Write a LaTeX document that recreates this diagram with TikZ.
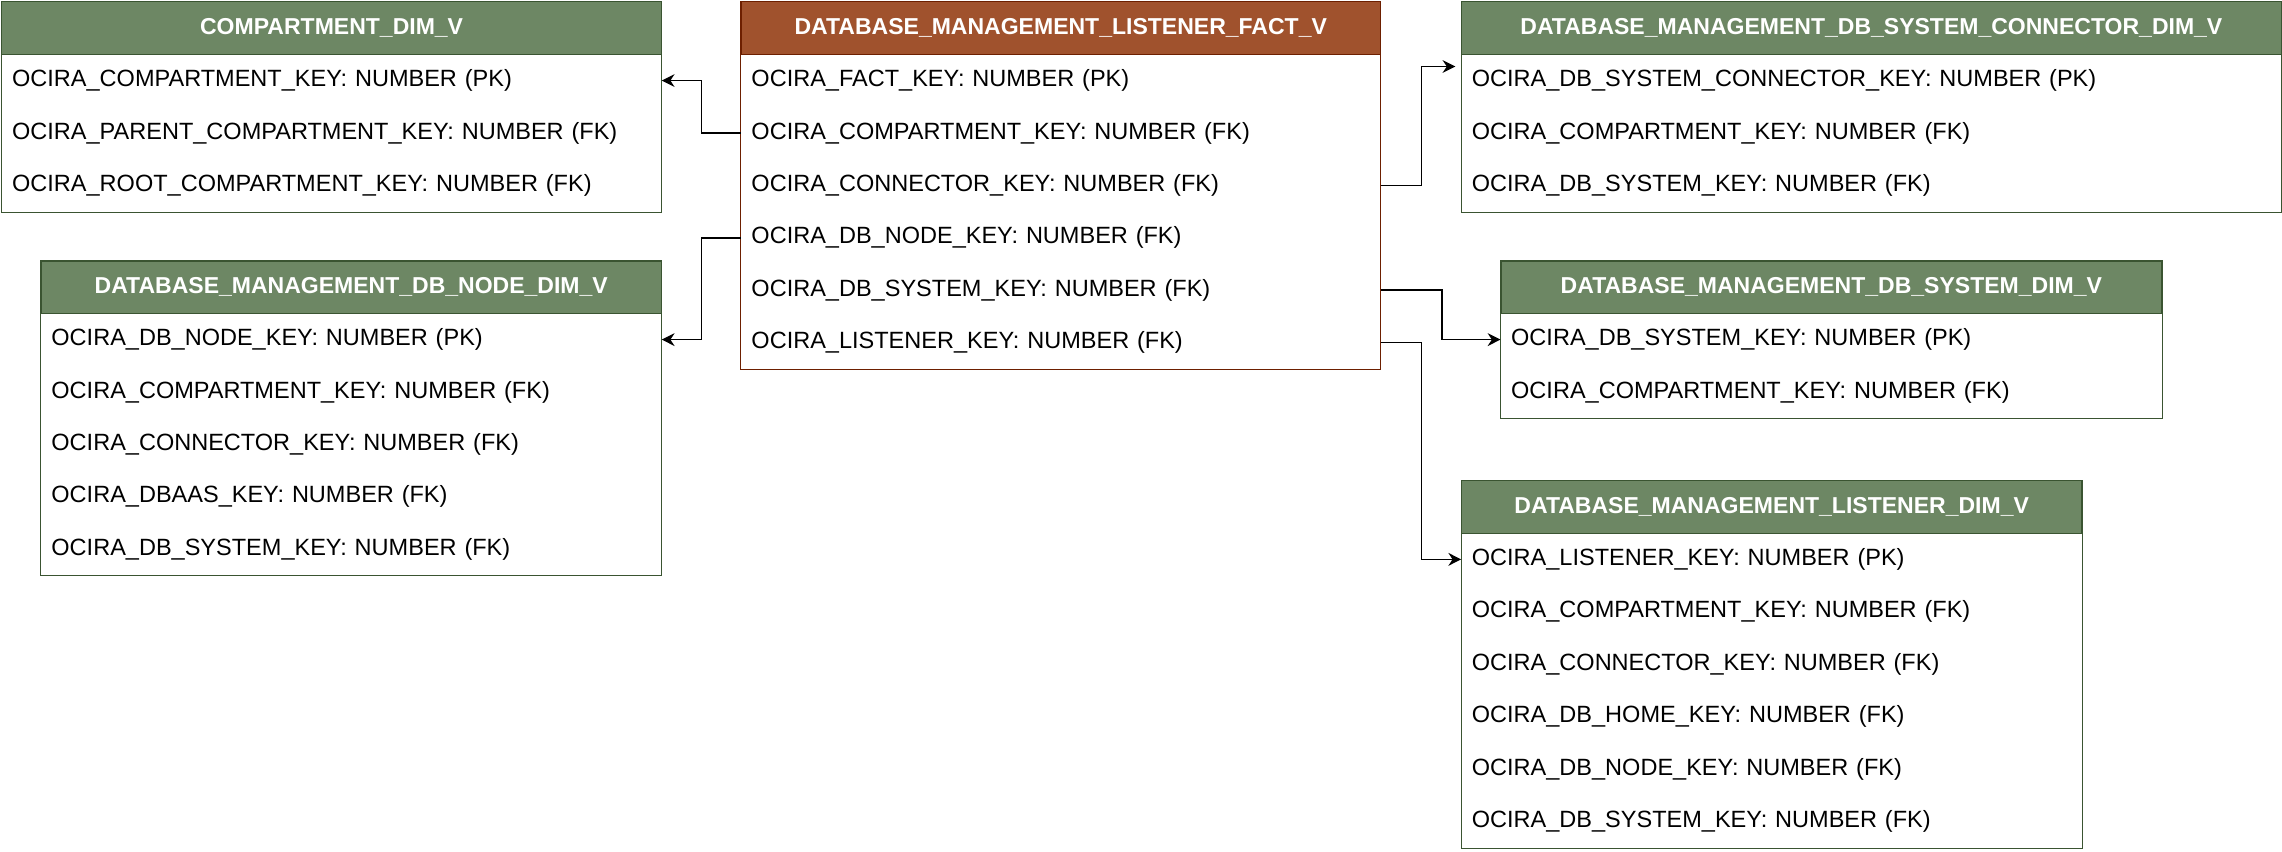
\documentclass[tikz,border=0pt]{standalone}
\usepackage{fontspec}
\setmainfont{Liberation Sans}
\usetikzlibrary{positioning, arrows.meta}

\definecolor{dimfill}{HTML}{6D8764}
\definecolor{dimline}{HTML}{3A5431}
\definecolor{factfill}{HTML}{A0522D}
\definecolor{factline}{HTML}{6D1F00}

\tikzset{
    hdr/.style={draw=#1, inner sep=0pt, minimum height=0.72cm, font=\fontsize{9}{11}\selectfont\bfseries, text=white},
    row/.style={inner xsep=0.14cm, inner ysep=0pt, minimum height=0.72cm, text width={#1*0.02cm-0.28cm}, align=left, font=\fontsize{9.2}{11}\selectfont},
    link/.style={-{Stealth[length=5pt, width=5pt]}, semithick},
}

% name, x, y, width, colour prefix, title, rows
\newcommand{\erdtable}[7]{
    \node[hdr=#5line, fill=#5fill, minimum width={#4*0.02cm}, anchor=north west] (#1) at (#2,#3) {#6};
    \foreach \r [count=\i] in {#7} {
        \node[row=#4, anchor=north west] (#1-\i) at (#2, {#3+36+36*(\i-1)}) {\r};
        \xdef\lastrow{\i}
    }
    \draw[#5line] (#1.north west) rectangle (#1-\lastrow.south west -| #1.east);
}

\begin{document}
\begin{tikzpicture}[x=0.02cm, y=-0.02cm]
    \useasboundingbox (0,0) rectangle (1568,585);

    \erdtable{comp}{1}{1}{453}{dim}{COMPARTMENT\_DIM\_V}{
        OCIRA\_COMPARTMENT\_KEY: NUMBER (PK),
        OCIRA\_PARENT\_COMPARTMENT\_KEY: NUMBER (FK),
        OCIRA\_ROOT\_COMPARTMENT\_KEY: NUMBER (FK)}
    \erdtable{fact}{509}{1}{439}{fact}{DATABASE\_MANAGEMENT\_LISTENER\_FACT\_V}{
        OCIRA\_FACT\_KEY: NUMBER (PK),
        OCIRA\_COMPARTMENT\_KEY: NUMBER (FK),
        OCIRA\_CONNECTOR\_KEY: NUMBER (FK),
        OCIRA\_DB\_NODE\_KEY: NUMBER (FK),
        OCIRA\_DB\_SYSTEM\_KEY: NUMBER (FK),
        OCIRA\_LISTENER\_KEY: NUMBER (FK)}
    \erdtable{conn}{1004}{1}{563}{dim}{DATABASE\_MANAGEMENT\_DB\_SYSTEM\_CONNECTOR\_DIM\_V}{
        OCIRA\_DB\_SYSTEM\_CONNECTOR\_KEY: NUMBER (PK),
        OCIRA\_COMPARTMENT\_KEY: NUMBER (FK),
        OCIRA\_DB\_SYSTEM\_KEY: NUMBER (FK)}
    \erdtable{dbnode}{28}{179}{426}{dim}{DATABASE\_MANAGEMENT\_DB\_NODE\_DIM\_V}{
        OCIRA\_DB\_NODE\_KEY: NUMBER (PK),
        OCIRA\_COMPARTMENT\_KEY: NUMBER (FK),
        OCIRA\_CONNECTOR\_KEY: NUMBER (FK),
        OCIRA\_DBAAS\_KEY: NUMBER (FK),
        OCIRA\_DB\_SYSTEM\_KEY: NUMBER (FK)}
    \erdtable{dbsys}{1031}{179}{454}{dim}{DATABASE\_MANAGEMENT\_DB\_SYSTEM\_DIM\_V}{
        OCIRA\_DB\_SYSTEM\_KEY: NUMBER (PK),
        OCIRA\_COMPARTMENT\_KEY: NUMBER (FK)}
    \erdtable{lsnr}{1004}{330}{426}{dim}{DATABASE\_MANAGEMENT\_LISTENER\_DIM\_V}{
        OCIRA\_LISTENER\_KEY: NUMBER (PK),
        OCIRA\_COMPARTMENT\_KEY: NUMBER (FK),
        OCIRA\_CONNECTOR\_KEY: NUMBER (FK),
        OCIRA\_DB\_HOME\_KEY: NUMBER (FK),
        OCIRA\_DB\_NODE\_KEY: NUMBER (FK),
        OCIRA\_DB\_SYSTEM\_KEY: NUMBER (FK)}

    % foreign keys
    \coordinate (connin) at ([yshift=-0.16cm]conn.south west);
    \draw[link] (fact-2.west) -- ++(-27,0) |- (comp-1.east);
    \draw[link] (fact-4.west) -- ++(-27,0) |- (dbnode-1.east);
    \draw[link] (fact-3.east) -- ++(28,0) |- ([xshift=-0.08cm]connin);
    \draw[link] (fact-5.east) -- ++(42,0) |- (dbsys-1.west);
    \draw[link] (fact-6.east) -- ++(28,0) |- (lsnr-1.west);
\end{tikzpicture}
\end{document}
